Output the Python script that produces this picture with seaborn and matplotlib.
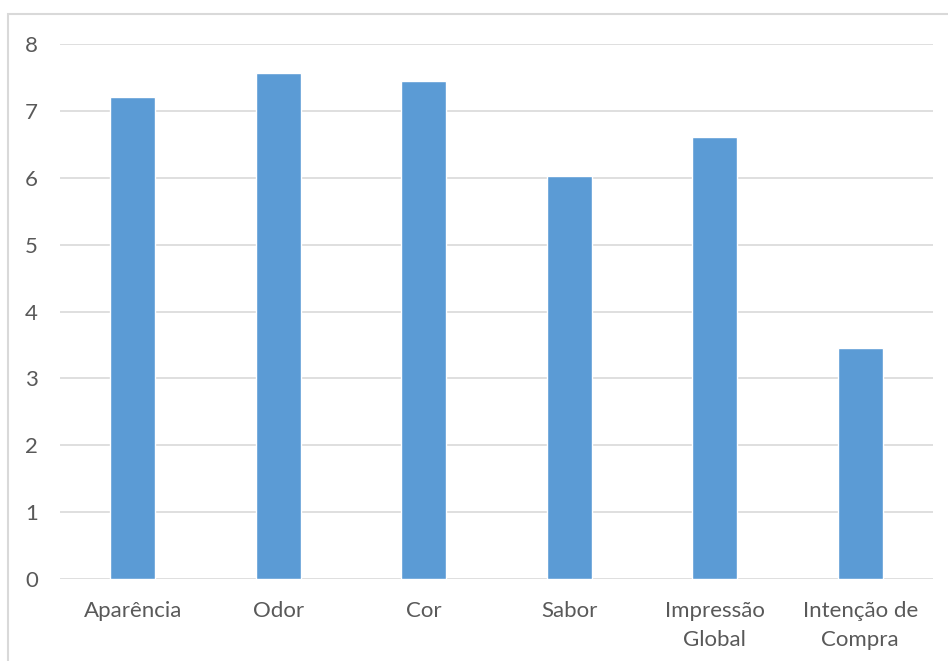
import matplotlib
matplotlib.use("Agg")
import matplotlib.pyplot as plt
from matplotlib.patches import Rectangle
import seaborn as sns
import pandas as pd

categories = ["Aparência", "Odor", "Cor", "Sabor", "Impressão\nGlobal", "Intenção de\nCompra"]
scores = [7.21, 7.56, 7.44, 6.02, 6.61, 3.46]
y_ticks = [0, 1, 2, 3, 4, 5, 6, 7, 8]

sns.set_theme(style="white")
plt.rcParams["font.family"] = ["Lato", "DejaVu Sans"]

df = pd.DataFrame({"atributo": categories, "nota": scores})

fig = plt.figure(figsize=(9.48, 6.61), dpi=100)
ax = fig.add_axes([60 / 948, 1 - 579 / 661, (933 - 60) / 948, (579 - 44) / 661])

# outer chart frame
fig.patches.append(Rectangle((8 / 948, -0.05), 1.1, 1 - 14 / 661 + 0.05,
                             transform=fig.transFigure, fill=False,
                             edgecolor="#d9d9d9", linewidth=1.5, zorder=0))

sns.barplot(data=df, x="atributo", y="nota", color="#5B9BD5", width=0.31,
            saturation=1, ax=ax, zorder=3)

ax.set_ylim(0, 8)
ax.set_yticks(y_ticks)
ax.set_xlim(-0.5, len(categories) - 0.5)
ax.yaxis.grid(True, color="#d9d9d9", linewidth=1.2, zorder=0)
ax.set_axisbelow(True)
for s in ax.spines.values():
    s.set_visible(False)
ax.set_xlabel("")
ax.set_ylabel("")
ax.tick_params(axis="both", length=0, labelsize=16, labelcolor="#595959")
ax.tick_params(axis="y", pad=16)
ax.tick_params(axis="x", pad=16)
for lbl in ax.get_xticklabels():
    lbl.set_linespacing(1.55)

fig.savefig("out.png", dpi=100)
